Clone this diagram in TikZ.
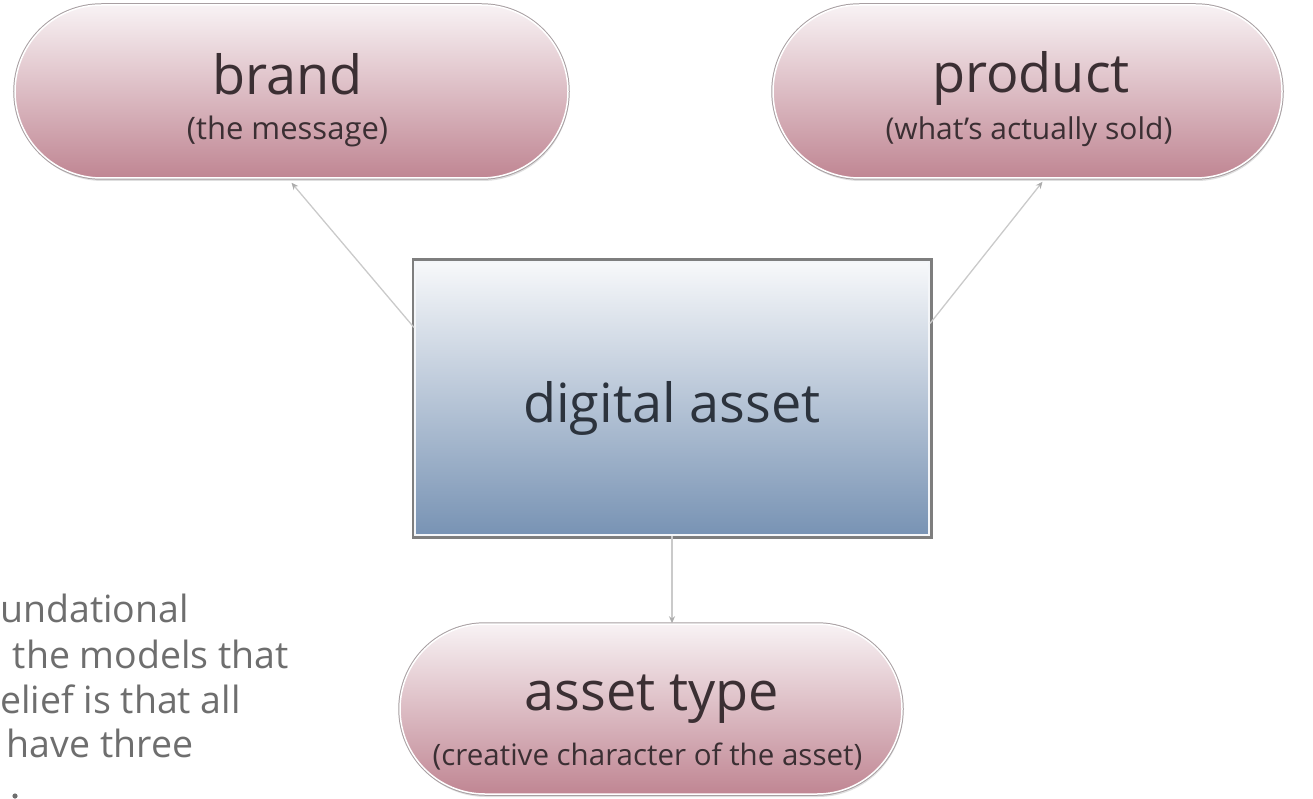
\documentclass[tikz,border=0pt]{standalone}
\usepackage{fontspec}
\setmainfont{Open Sans}
\usetikzlibrary{shapes.misc,shadows,arrows.meta}

\definecolor{pilltop}{HTML}{F8F2F4}
\definecolor{pillbot}{HTML}{C08693}
\definecolor{pillrim}{HTML}{A89FA2}
\definecolor{pilltext}{HTML}{3B2F33}
\definecolor{boxtop}{HTML}{F7F8FA}
\definecolor{boxbot}{HTML}{7893B4}
\definecolor{boxrim}{HTML}{7E7E7E}
\definecolor{boxtext}{HTML}{2C333D}
\definecolor{linkgray}{HTML}{CACACA}
\definecolor{notegray}{HTML}{6E6E6E}

\begin{document}
\begin{tikzpicture}[x=1pt,y=-1pt,
  pill/.style={rounded rectangle, inner sep=0pt,
    drop shadow={opacity=0.25, shadow xshift=1pt, shadow yshift=-3pt},
    preaction={draw=pillrim, line width=3.5pt},
    top color=pilltop, bottom color=pillbot,
    draw=white, line width=1.5pt},
  assetbox/.style={rectangle, inner sep=0pt,
    drop shadow={opacity=0.55, shadow xshift=3pt, shadow yshift=-3pt},
    preaction={draw=boxrim, line width=7pt},
    top color=boxtop, bottom color=boxbot,
    draw=white!92!boxbot, line width=2pt},
  mainlbl/.style={anchor=base, inner sep=0pt, text=pilltext,
    font=\fontsize{54}{60}\selectfont},
  sublbl/.style={anchor=base, inner sep=0pt, text=pilltext,
    font=\fontsize{30}{36}\selectfont},
  notelbl/.style={anchor=base west, inner sep=0pt, text=notegray,
    font=\fontsize{37.5}{44}\selectfont},
  link/.style={draw=linkgray, line width=1.3pt,
    -{Stealth[length=7pt,width=6pt,color=linkgray!85!black]}}
]
\useasboundingbox (0,0) rectangle (1313,799);
\clip (0,0) rectangle (1313,799);

% side note text along the left edge
\node[notelbl] (n1) at (0,622) {undational};
\node[notelbl] (n2) at (3,668) {\ the models that};
\node[notelbl] (n3) at (0,713) {elief is that all};
\node[notelbl] (n4) at (-3,757) {\ have three};
\fill[notegray] (15,796) circle (2.6pt);

% shapes
\node[pill, minimum width=553pt, minimum height=173pt] (brand) at (291.5,91.5) {};
\node[pill, minimum width=509pt, minimum height=173pt] (product) at (1027.5,91.5) {};
\node[pill, minimum width=502pt, minimum height=170pt] (atype) at (651,709) {};
\node[assetbox, minimum width=514pt, minimum height=273pt] (asset) at (672,398.5) {};

% labels
\node[mainlbl] (brandT) at (287.5,95) {brand};
\node[sublbl, font=\fontsize{31}{36}\selectfont] (brandS) at (287.5,140) {(the message)};
\node[mainlbl] (productT) at (1031,93) {product};
\node[sublbl] (productS) at (1029,140) {(what’s actually sold)};
\node[mainlbl, text=boxtext] (assetT) at (672,422) {digital asset};
\node[mainlbl] (atypeT) at (652,710) {asset type};
\node[sublbl, font=\fontsize{29.5}{36}\selectfont] (atypeS) at (647.5,765) {(creative character of the asset)};

% connectors
\draw[link] ([yshift=71pt]asset.west) -- ([yshift=-4pt]brand.south);
\draw[link] ([yshift=75pt]asset.east) -- ([xshift=15pt,yshift=-3pt]product.south);
\draw[link] (asset.south) -- (asset.south |- atype.north);
\end{tikzpicture}
\end{document}
